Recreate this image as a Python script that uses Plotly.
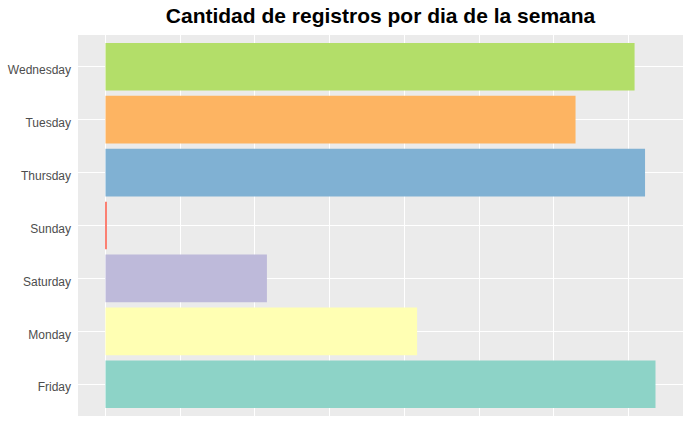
import plotly.graph_objects as go

days = ["Friday", "Monday", "Saturday", "Sunday", "Thursday", "Tuesday", "Wednesday"]
counts = [7.36, 4.17, 2.16, 0.02, 7.22, 6.29, 7.08]
colors = ["#8DD3C7", "#FFFFB3", "#BEBADA", "#FB8072", "#80B1D3", "#FDB462", "#B3DE69"]

fig = go.Figure(go.Bar(
    x=counts, y=days, orientation="h", width=0.9,
    marker=dict(color=colors, line=dict(width=0)),
    showlegend=False,
))

fig.update_layout(
    width=691, height=427,
    margin=dict(l=78, r=8, t=35, b=11),
    paper_bgcolor="white", plot_bgcolor="#EBEBEB",
    title=dict(text="<b>Cantidad de registros por dia de la semana</b>",
               x=0.5507, xanchor="center",
               y=0.963, yanchor="middle",
               font=dict(family="Liberation Sans, Arial", size=21, color="black")),
    font=dict(family="Liberation Sans, Arial"),
    bargap=0.1,
)
fig.update_xaxes(range=[-0.368, 7.728], dtick=1, tick0=0, showticklabels=False,
                 showgrid=True, gridcolor="white", gridwidth=1.1, zeroline=False,
                 ticks="", showline=False)
fig.update_yaxes(categoryorder="array", categoryarray=days, range=[-0.6, 6.6],
                 showgrid=True, gridcolor="white", gridwidth=1.1, zeroline=False,
                 ticks="", ticklabelstandoff=6, ticklabelshift=3,
                 tickfont=dict(size=12, color="#4D4D4D"), showline=False)

fig.write_html("out.html")
